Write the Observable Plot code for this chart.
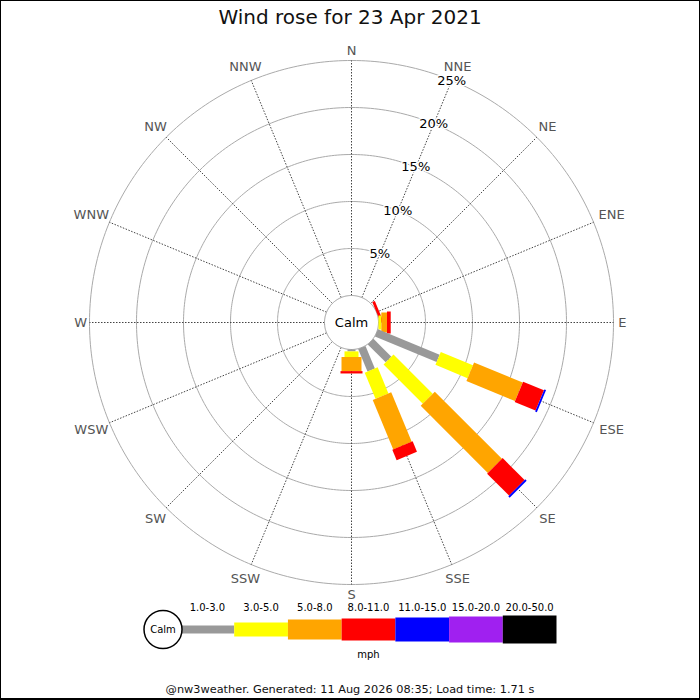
<!DOCTYPE html>
<html>
<head>
<meta charset="utf-8">
<script src="https://cdn.jsdelivr.net/npm/d3@7"></script>
<script src="https://cdn.jsdelivr.net/npm/@observablehq/plot@0.6"></script>
<style>
  body { margin: 0; background: white; font-family: "DejaVu Sans", sans-serif; }
  #page { position: relative; width: 700px; height: 700px; overflow: hidden; }
  #border { position: absolute; left: 0; top: 0; width: 700px; height: 700px; box-sizing: border-box; border: 1px solid black; border-bottom-width: 2px; pointer-events: none; }
  #title { height: 34px; line-height: 34px; text-align: center; font-size: 20px; color: #111; }
  #rose svg, #legend svg { display: block; overflow: visible; }
  #footer { height: 40px; box-sizing: border-box; padding-top: 20px; line-height: 20px; text-align: center; font-size: 11.3px; color: #111; }
</style>
</head>
<body>
<div id="page">
  <div id="title">Wind rose for 23 Apr 2021</div>
  <div id="rose"></div>
  <div id="legend"></div>
  <div id="footer">@nw3weather. Generated: 11 Aug 2026 08:35; Load time: 1.71 s</div>
  <div id="border"></div>
</div>
<script>
// Directions, clockwise from north
const directions = ["N", "NNE", "NE", "ENE", "E", "ESE", "SE", "SSE",
  "S", "SSW", "SW", "WSW", "W", "WNW", "NW", "NNW"];
const speedBands = ["1.0-3.0", "3.0-5.0", "5.0-8.0", "8.0-11.0", "11.0-15.0", "15.0-20.0", "20.0-50.0"];

// % of the day per direction, one array per speed band (mph)
const pct1to3 = [0, 0, 0, 0, 0, 7.1, 2.7, 2.6, 0.2, 0, 0, 0, 0, 0, 0, 0];
const pct3to5 = [0, 0, 0, 0, 0.3, 3.7, 5.9, 3.0, 0.6, 0, 0, 0, 0, 0, 0, 0];
const pct5to8 = [0, 0, 0, 0, 0.6, 5.6, 10.1, 5.7, 1.5, 0, 0, 0, 0, 0, 0, 0];
const pct8to11 = [0, 0, 0, 0.3, 0.4, 2.4, 3.3, 1.2, 0.25, 0, 0, 0, 0, 0, 0, 0];
const pct11to15 = [0, 0, 0, 0, 0, 0.2, 0.2, 0, 0, 0, 0, 0, 0, 0, 0, 0];
const pct15to20 = [0, 0, 0, 0, 0, 0, 0, 0, 0, 0, 0, 0, 0, 0, 0, 0];
const pct20to50 = [0, 0, 0, 0, 0, 0, 0, 0, 0, 0, 0, 0, 0, 0, 0, 0];

const ringPcts = [5, 10, 15, 20, 25];

// styles
const bandColors = ["#999999", "#ffff00", "#ffa500", "#ff0000", "#0000ff", "#a020f0", "#000000"];
const bandWidths = [8, 14, 20, 22, 24, 26, 28];

const K = 9.4;          // px per percent
const calmR = 27 / K;   // calm circle radius, in percent units
const frameR = 270;     // px from centre to frame edge

// bearing (deg clockwise from N) -> longitude on the polar projection
const lon = (bearing) => 180 - bearing;
// radius (percent units) -> latitude
const lat = (u) => 90 - u;
const circle = (u) => d3.geoCircle().center([0, 90]).radius(u).precision(1)();

// stack the bands outwards along each direction
const bandValues = [pct1to3, pct3to5, pct5to8, pct8to11, pct11to15, pct15to20, pct20to50];
const segments = [];
directions.forEach((dir, i) => {
  let r0 = calmR;
  bandValues.forEach((vals, b) => {
    const v = vals[i];
    if (v > 0) {
      segments.push({dir, bearing: i * 22.5, band: speedBands[b], r0, r1: r0 + v, w: bandWidths[b]});
    }
    r0 += v;
  });
});

// push labels out by roughly half their width on the sides
const labelR = (d, i) => {
  const a = (i * 22.5 * Math.PI) / 180;
  return (266 + 4.8 * d.length * Math.abs(Math.sin(a)) + 6 * Math.abs(Math.cos(a))) / K;
};

const rose = Plot.plot({
  width: 700,
  height: 566,
  marginLeft: 351 - frameR,
  marginRight: 700 - 351 - frameR,
  marginTop: 288 - frameR,
  marginBottom: 566 - 288 - frameR,
  style: {fontFamily: "DejaVu Sans", background: "white"},
  projection: {
    type: "azimuthal-equidistant",
    rotate: [0, -90],
    domain: circle(frameR / K),
    clip: false
  },
  color: {domain: speedBands, range: bandColors},
  marks: [
    Plot.geo(ringPcts, {geometry: (p) => circle(calmR + p), stroke: "#aaa", strokeOpacity: 1, fill: "none"}),
    Plot.link(directions, {
      x1: (d, i) => lon(i * 22.5), y1: lat(calmR),
      x2: (d, i) => lon(i * 22.5), y2: lat(calmR + 25),
      stroke: "#444", strokeDasharray: "1.5,1.5", strokeWidth: 1
    }),
    Plot.geo([calmR], {geometry: (u) => circle(u), fill: "white", stroke: "#999"}),
    Plot.link(segments, {
      x1: (d) => lon(d.bearing), y1: (d) => lat(d.r0),
      x2: (d) => lon(d.bearing), y2: (d) => lat(d.r1),
      stroke: "band", strokeWidth: "w", strokeLinecap: "butt"
    }),
    Plot.text(["Calm"], {x: 0, y: 90, text: (d) => d, fontSize: 13, fill: "black"}),
    Plot.text(ringPcts, {
      x: lon(22.5), y: (p) => lat(calmR + p), text: (p) => `${p}%`,
      fontSize: 13, fill: "black", stroke: "white", strokeWidth: 3
    }),
    Plot.text(directions, {
      x: (d, i) => lon(i * 22.5), y: (d, i) => lat(labelR(d, i)), text: (d) => d,
      fontSize: 13, fill: "#555"
    })
  ]
});
document.getElementById("rose").appendChild(rose);

const legend = Plot.plot({
  width: 700,
  height: 60,
  margin: 0,
  style: {fontFamily: "DejaVu Sans", background: "transparent"},
  x: {domain: [0, speedBands.length], range: [180, 556], axis: null},
  y: {type: "point", domain: ["key"], range: [0, 58], axis: null},
  color: {domain: speedBands, range: bandColors},
  marks: [
    Plot.link(speedBands, {
      x1: (d, i) => i, x2: (d, i) => i + 1, y1: () => "key", y2: () => "key",
      stroke: (d) => d, strokeWidth: (d, i) => bandWidths[i]
    }),
    Plot.text(speedBands, {x: (d, i) => i + 0.5, frameAnchor: "top", lineAnchor: "middle", dy: 7, text: (d) => d, fontSize: 10, fill: "black"}),
    Plot.dot(["Calm"], {x: 0, y: () => "key", dx: -17.5, r: 19, fill: "white", stroke: "black"}),
    Plot.text(["Calm"], {x: 0, y: () => "key", dx: -17.5, text: (d) => d, fontSize: 10, fill: "black"}),
    Plot.text(["mph"], {x: speedBands.length / 2, frameAnchor: "bottom", lineAnchor: "middle", dy: -6, text: (d) => d, fontSize: 10, fill: "black"})
  ]
});
document.getElementById("legend").appendChild(legend);
</script>
</body>
</html>
